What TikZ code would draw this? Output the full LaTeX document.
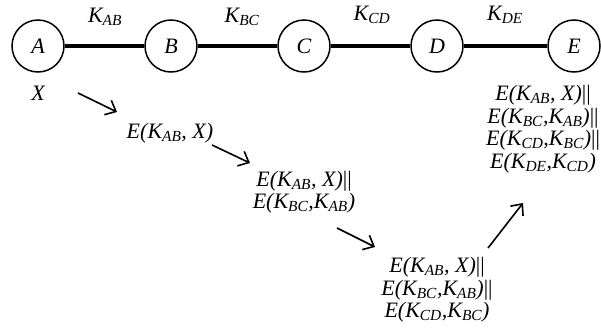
\documentclass[tikz,border=0pt]{standalone}
\usepackage{fontspec}
\setmainfont{Liberation Serif}
\usetikzlibrary{arrows.meta}
\newcommand\Kk[1]{K\textsubscript{#1}}
\newcommand\bars{{\upshape||}}
\begin{document}
\begin{tikzpicture}[x=1pt,y=-1pt,
  party/.style={draw,circle,line width=1.5pt,minimum size=52pt,inner sep=0pt,font=\fontsize{22}{23}\selectfont\itshape},
  link/.style={line width=3.4pt},
  lab/.style={inner sep=0pt,align=center,font=\fontsize{22}{22.5}\selectfont\itshape},
  flow/.style={line width=1.6pt,-{Straight Barb[length=9pt,width=16pt,line width=1.6pt]}}]
\useasboundingbox (0,0) rectangle (601,335);
\node[party] (A) at (38,46) {A};
\node[party] (B) at (171,46) {B};
\node[party] (C) at (304,46) {C};
\node[party] (D) at (437,46) {D};
\node[party] (E) at (574,46) {E};
\draw[link] (A) -- (B);
\draw[link] (B) -- (C);
\draw[link] (C) -- (D);
\draw[link] (D) -- (E);
\node[lab] (kab) at (105,17) {\Kk{AB}};
\node[lab] (kbc) at (242,17) {\Kk{BC}};
\node[lab] (kcd) at (372,15) {\Kk{CD}};
\node[lab] (kde) at (505,15) {\Kk{DE}};
\node[lab] (x) at (38,93) {X};
\node[lab] (t1) at (170,133) {E(\Kk{AB}, X)};
\node[lab] (t2) at (304,192) {E(\Kk{AB}, X)\bars\\E(\Kk{BC},\Kk{AB})};
\node[lab] (t3) at (437,290) {E(\Kk{AB}, X)\bars\\E(\Kk{BC},\Kk{AB})\bars\\E(\Kk{CD},\Kk{BC})};
\node[lab] (t4) at (543,129) {E(\Kk{AB}, X)\bars\\E(\Kk{BC},\Kk{AB})\bars\\E(\Kk{CD},\Kk{BC})\bars\\E(\Kk{DE},\Kk{CD})};
\coordinate (a1s) at (78,93);  \coordinate (a1e) at (117,112);
\coordinate (a2s) at (212,145); \coordinate (a2e) at (250,163);
\coordinate (a3s) at (337,228); \coordinate (a3e) at (375,247);
\coordinate (a4s) at (488,248); \coordinate (a4e) at (523,203);
\draw[flow] (a1s) -- (a1e);
\draw[flow] (a2s) -- (a2e);
\draw[flow] (a3s) -- (a3e);
\draw[flow] (a4s) -- (a4e);
\end{tikzpicture}
\end{document}
